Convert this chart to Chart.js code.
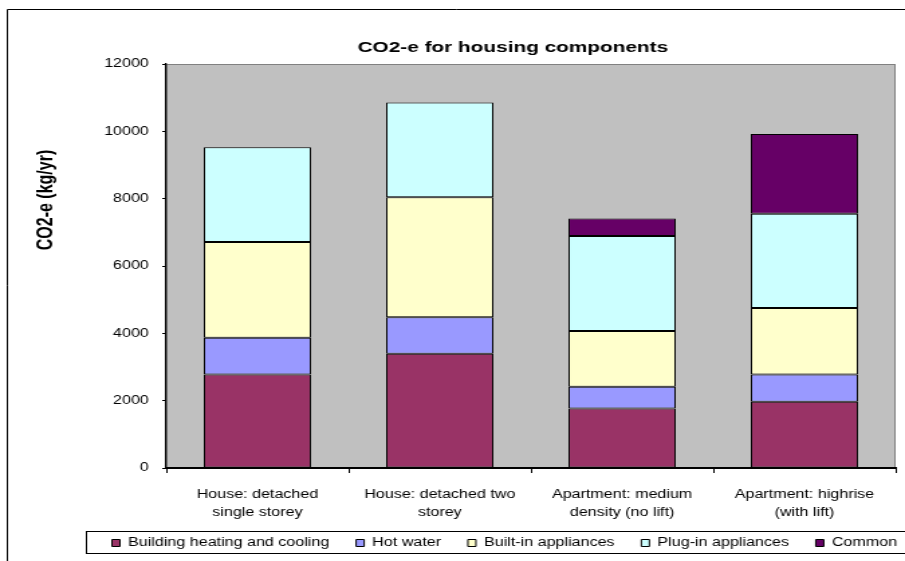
<!DOCTYPE html>
<html>
<head>
<meta charset="utf-8">
<title>CO2-e for housing components</title>
<script src="https://cdn.jsdelivr.net/npm/chart.js@4.4.1/dist/chart.umd.min.js"></script>
<style>
  body { margin: 0; background: #fff; }
</style>
</head>
<body>
<!-- canvas is drawn narrow and stretched to the page width -->
<canvas id="co2Chart" width="675" height="561" style="width:905px;height:561px"></canvas>
<script>
// housing types (two line axis labels)
const categories = [
  ["House: detached", "single storey"],
  ["House: detached two", "storey"],
  ["Apartment: medium", "density (no lift)"],
  ["Apartment: highrise", "(with lift)"],
];

// CO2-e per component, kg/yr
const heatingCooling = [2780, 3390, 1770, 1970];
const hotWater = [1090, 1090, 640, 810];
const builtIn = [2840, 3560, 1660, 1970];
const plugIn = [2820, 2820, 2820, 2800];
const common = [null, null, 520, 2370];

// y axis
const yMin = 0;
const yMax = 12000;
const yStep = 2000;

const fontFamily = "'Liberation Sans', Arial, sans-serif";
Chart.defaults.font.family = fontFamily;
Chart.defaults.color = "#000";

//==========================================================================
// grey plot area, outer frame, legend frame and the y title
const excelLook = {
  id: "excelLook",
  afterLayout(chart) {
    let legend = chart.legend;
    legend.left = 63.5;
    legend.right = 800;
    legend.width = legend.right - legend.left;

    let title = chart.titleBlock;
    title.left = 45;
    title.right = 720;
    title.width = title.right - title.left;

    // second line of the x labels hangs into the legend box space
    chart.scales.x.bottom = 528;
  },
  beforeDraw(chart) {
    const ctx = chart.ctx;
    const a = chart.chartArea;
    ctx.save();
    ctx.fillStyle = "#fff";
    ctx.fillRect(0, 0, chart.width, chart.height);

    // chart frame, runs past the right and bottom edge
    ctx.strokeStyle = "#000";
    ctx.lineWidth = 1;
    ctx.beginPath();
    ctx.moveTo(5.5, chart.height + 5);
    ctx.lineTo(5.5, 9.5);
    ctx.lineTo(chart.width + 5, 9.5);
    ctx.stroke();

    // plot area
    ctx.fillStyle = "#c0c0c0";
    ctx.fillRect(a.left, a.top, a.right - a.left, a.bottom - a.top);
    ctx.strokeStyle = "#808080";
    ctx.strokeRect(a.left, a.top + 0.5, a.right - a.left - 0.5, a.bottom - a.top);

    // legend frame
    ctx.strokeStyle = "#000";
    ctx.strokeRect(64.5, 531.5, 800, 22);

    // y axis title
    ctx.font = "bold 16px " + fontFamily;
    ctx.fillStyle = "#000";
    ctx.textAlign = "center";
    ctx.textBaseline = "middle";
    ctx.translate(34.3, 200);
    ctx.rotate(-Math.PI / 2);
    ctx.fillText("CO2-e (kg/yr)", 0, 0);
    ctx.restore();
  },
};

//==========================================================================
// stacked bars
const data = {
  labels: categories,
  datasets: [
    { label: "Building heating and cooling", data: heatingCooling, backgroundColor: "#993366" },
    { label: "Hot water", data: hotWater, backgroundColor: "#9999FF" },
    { label: "Built-in appliances", data: builtIn, backgroundColor: "#FFFFCC" },
    { label: "Plug-in appliances", data: plugIn, backgroundColor: "#CCFFFF" },
    { label: "Common", data: common, backgroundColor: "#660066" },
  ],
};

const config = {
  type: "bar",
  data,
  plugins: [excelLook],
  options: {
    responsive: false,
    animation: false,
    layout: {
      padding: { top: 0, left: 0, right: 7, bottom: 2 },
    },
    datasets: {
      bar: {
        borderColor: "#000",
        borderWidth: 1,
        borderSkipped: false,
        barPercentage: 1,
        categoryPercentage: 0.588,
      },
    },
    scales: {
      x: {
        stacked: true,
        grid: {
          offset: true,
          drawOnChartArea: false,
          tickLength: 5,
          color: "#000",
        },
        border: { color: "#000", width: 2 },
        ticks: {
          color: "#000",
          padding: 13,
          maxRotation: 0,
          autoSkip: false,
          font: { size: 12, lineHeight: 1.5 },
        },
        afterFit(scale) {
          scale.height = 49;
        },
      },
      y: {
        stacked: true,
        min: yMin,
        max: yMax,
        ticks: {
          stepSize: yStep,
          padding: 10,
          color: "#000",
          font: { size: 12 },
          callback: (value) => String(value),
        },
        grid: {
          drawOnChartArea: false,
          tickLength: 3,
          color: "#000",
        },
        border: { color: "#000", width: 1.3 },
        afterFit(scale) {
          scale.width = 124;
        },
      },
    },
    plugins: {
      title: {
        display: true,
        text: "CO2-e for housing components",
        color: "#000",
        font: { size: 15.5, weight: "bold", lineHeight: 1.2 },
        padding: { top: 38, bottom: 7.4 },
      },
      legend: {
        display: true,
        position: "bottom",
        align: "start",
        labels: {
          boxWidth: 6,
          boxHeight: 7,
          padding: 20,
          color: "#000",
          font: { size: 12 },
        },
      },
      tooltip: { enabled: false },
    },
  },
};

const co2Chart = new Chart(document.getElementById("co2Chart"), config);
</script>
</body>
</html>
